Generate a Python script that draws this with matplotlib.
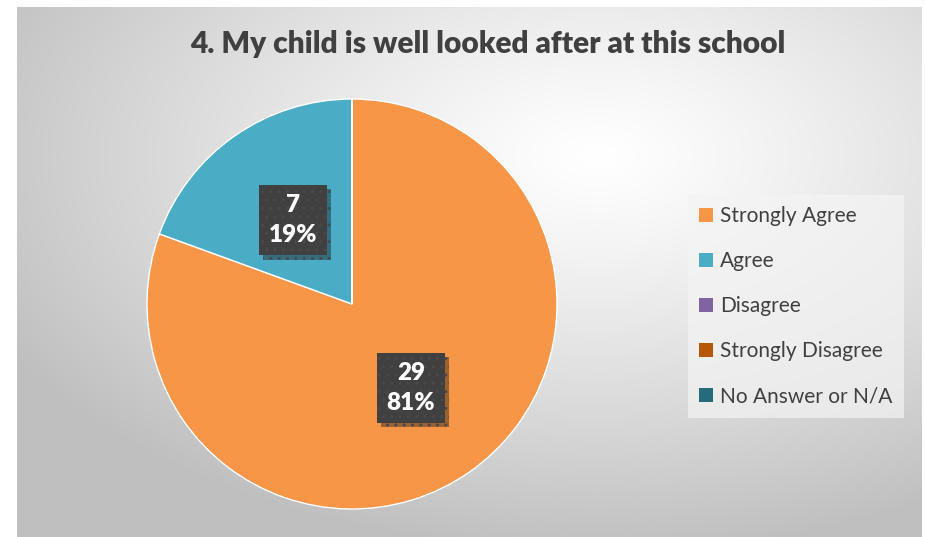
import matplotlib.pyplot as plt
import matplotlib.patheffects as pe
from matplotlib.patches import Patch
import numpy as np

# survey answers
categories = ['Strongly Agree', 'Agree', 'Disagree', 'Strongly Disagree', 'No Answer or N/A']
counts = [29, 7, 0, 0, 0]
colors = ['#F79646', '#4BACC6', '#8064A2', '#B65708', '#276A7C']
title = '4. My child is well looked after at this school'

plt.rcParams['font.family'] = ['Lato', 'DejaVu Sans']

W, H = 925, 537
fig = plt.figure(figsize=(W / 100, H / 100), dpi=100)
fig.patch.set_facecolor('white')

# chart area with radial gradient background
bg = fig.add_axes([17 / W, 0, (922 - 17) / W, (H - 7) / H])
yy, xx = np.mgrid[0:300, 0:500]
cx, cy = 0.64 * 500, 0.28 * 300
d = np.sqrt(((xx - cx) / 500) ** 2 + ((yy - cy) / 300) ** 2)
d = np.clip(d / 0.75, 0, 1)
shade = 1 - 0.25 * d ** 1.2
img = np.dstack([shade, shade, shade])
bg.imshow(img, aspect='auto', extent=[0, 1, 0, 1], origin='upper')
bg.set_axis_off()

fig.text((196 + 780) / 2 / W, 1 - 44 / H, title, ha='center', va='center',
         fontsize=21.5, fontweight='heavy', color='#404040')

# pie
cxp, cyp, r = 352, 304, 205
ax = fig.add_axes([(cxp - r) / W, (H - cyp - r) / H, 2 * r / W, 2 * r / H])
total = sum(counts)


def fmt(p):
    n = int(round(p * total / 100))
    return f'{n}\n{p:.0f}%' if n > 0 else ''


wedges, texts, autotexts = ax.pie(counts, colors=colors, startangle=90, counterclock=False,
                                  autopct=fmt, pctdistance=0.5,
                                  wedgeprops=dict(edgecolor='white', linewidth=1),
                                  textprops=dict(color='white', fontsize=17.5, fontweight='heavy',
                                                 linespacing=1.4))
ax.set_xlim(-1, 1)
ax.set_ylim(-1, 1)
ax.set_aspect('equal')
for t in autotexts:
    if t.get_text():
        t.set_ha('center')
        t.set_va('center')
        t.set_bbox(dict(boxstyle='square,pad=0.4', facecolor='#404040', edgecolor='#494949',
                        linewidth=0, hatch='..'))
        t.get_bbox_patch().set_path_effects([pe.SimplePatchShadow(offset=(3, -3), alpha=0.4),
                                             pe.Normal()])

handles = [Patch(facecolor=c, label=l) for c, l in zip(colors, categories)]
leg = fig.legend(handles=handles, loc='upper left', bbox_to_anchor=(688 / W, 1 - 195 / H),
                 frameon=True, fontsize=15, labelcolor='#404040', handlelength=0.65,
                 handleheight=0.65, handletextpad=0.35, labelspacing=1.2, borderpad=0.55,
                 borderaxespad=0, fancybox=False)
leg.get_frame().set_facecolor('#f4f4f4')
leg.get_frame().set_alpha(0.7)
leg.get_frame().set_linewidth(0)

fig.savefig('out.png', dpi=100)
